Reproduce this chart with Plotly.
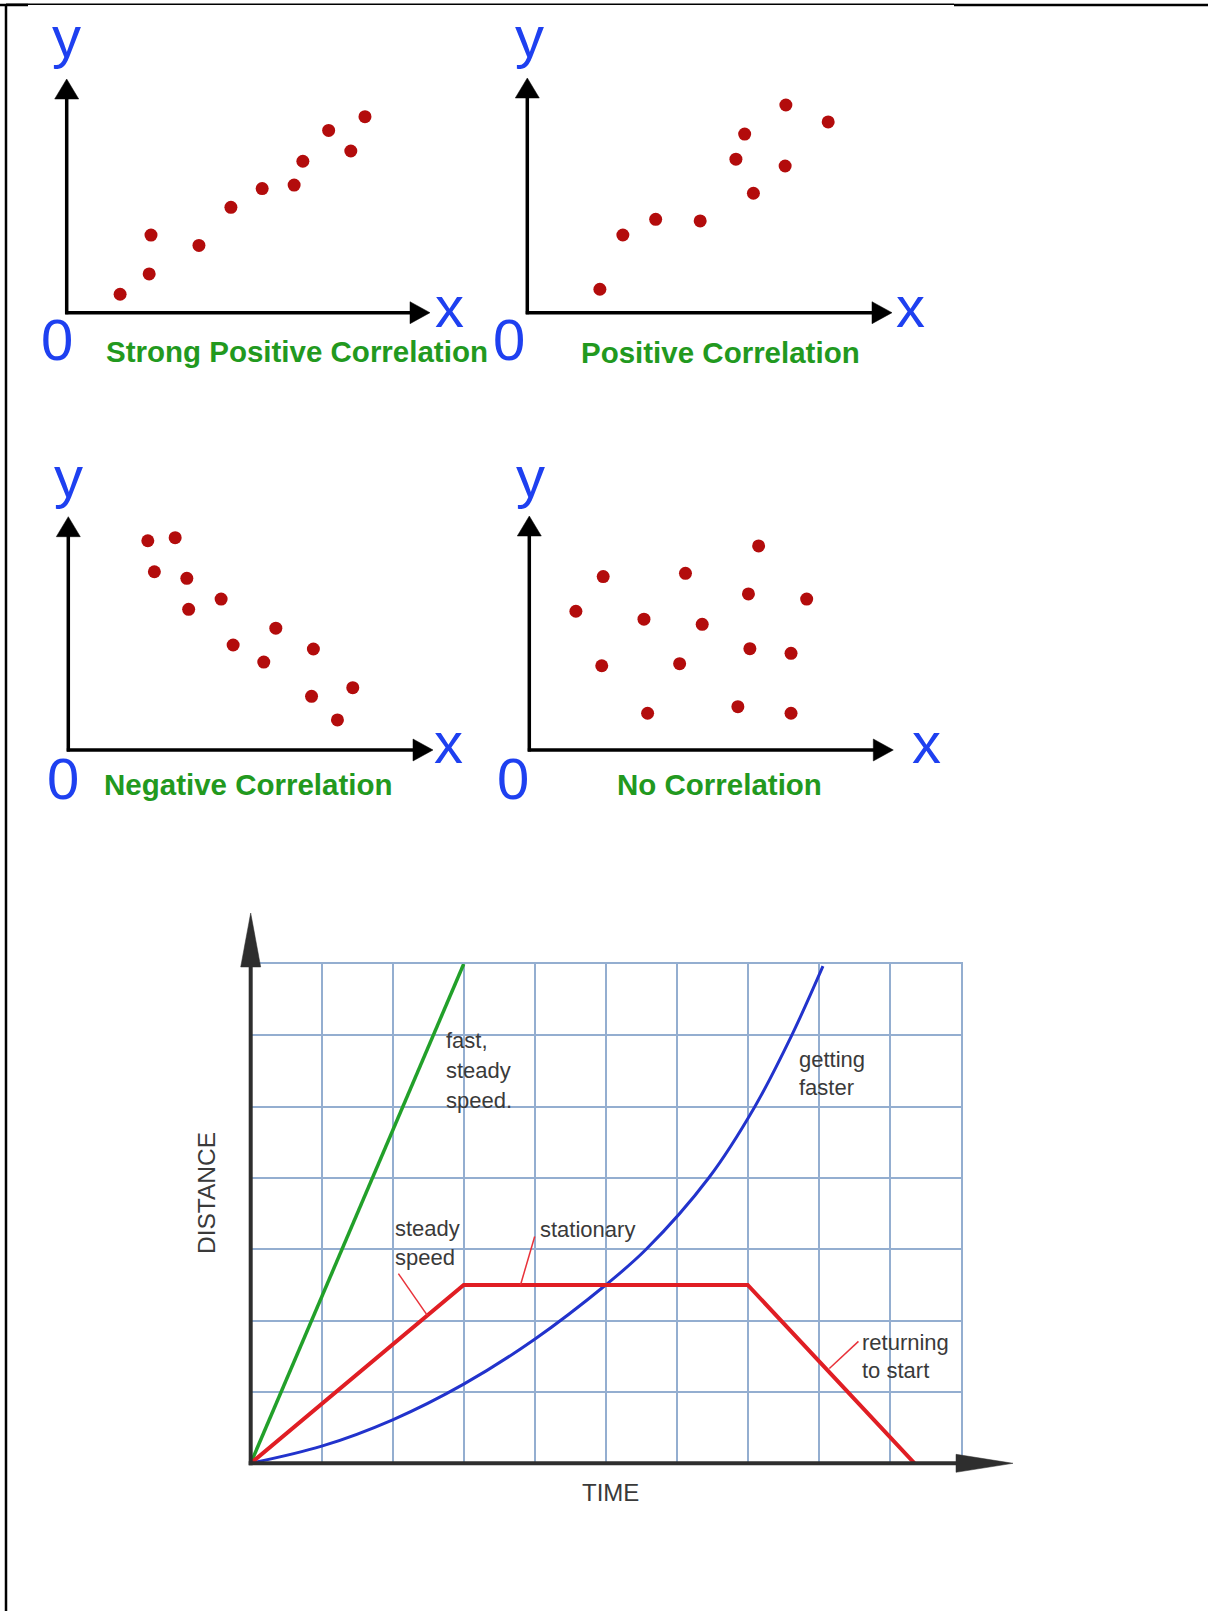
import plotly.graph_objects as go

W, H = 1208, 1611

# ---------------- data: the four scatter panels (0-10 units) ----------------
strong_pos_x = [1.47, 2.27, 2.32, 3.64, 4.52, 5.38, 6.26, 6.50, 7.21, 7.82, 8.21]
strong_pos_y = [0.79, 1.66, 3.32, 2.88, 4.51, 5.31, 5.46, 6.48, 7.80, 6.92, 8.39]
pos_x = [1.99, 2.62, 3.52, 4.74, 5.96, 5.72, 6.20, 7.09, 7.07, 8.25]
pos_y = [1.00, 3.31, 3.98, 3.91, 7.61, 6.54, 5.09, 8.85, 6.25, 8.13]
neg_x = [2.18, 2.93, 2.36, 3.25, 3.30, 4.19, 4.52, 5.69, 5.36, 6.72, 6.67, 7.80, 7.38]
neg_y = [8.97, 9.10, 7.64, 7.36, 6.03, 6.47, 4.50, 5.22, 3.77, 4.33, 2.30, 2.67, 1.29]
none_x = [1.28, 2.03, 1.99, 3.15, 3.25, 4.29, 4.13, 4.75, 6.30, 6.02, 6.06, 5.73, 7.62, 7.19, 7.19]
none_y = [5.93, 7.41, 3.60, 5.59, 1.57, 7.55, 3.69, 5.37, 8.72, 6.67, 4.33, 1.85, 6.45, 4.13, 1.57]
panel_titles = ["Strong Positive Correlation", "Positive Correlation",
                "Negative Correlation", "No Correlation"]
axis_names = ["y", "x", "0"]

# ---------------- data: distance-time graph (grid units) ----------------
fast_t = [0, 3]
fast_d = [0, 7]
trip_t = [0, 3, 7, 9.35]
trip_d = [0, 2.5, 2.5, 0]
accel_t = [0, 1, 2, 3, 4, 5, 5.57, 6.45, 7.1, 7.62, 8.06]
accel_d = [0, 0.24, 0.61, 1.11, 1.74, 2.5, 3, 4, 5, 6, 6.97]
# callout leader lines: (text end, point on curve)
leader_from_t = [2.08, 4.00, 8.56]
leader_from_d = [2.66, 3.18, 1.71]
leader_to_t = [2.49, 3.80, 8.15]
leader_to_d = [2.07, 2.50, 1.33]
callouts = [["fast,", "steady", "speed."], ["steady", "speed"], ["stationary"],
            ["getting", "faster"], ["returning", "to start"]]
x_title = "TIME"
y_title = "DISTANCE"

# ---------------- layout constants (pixels) ----------------
BLUE = "#1e40f0"
GREEN = "#22991e"
DOT = "#b30c0c"
TXT = "#3a3a3a"
GRID = "#94aed0"
FONT = "Liberation Sans"

# origin x, origin y, x-arrow tip, y-arrow tip
PANEL_BOX = [
    (66.7, 312.7, 430.0, 79.0),
    (527.3, 312.7, 892.0, 78.0),
    (68.3, 750.0, 433.0, 516.7),
    (529.3, 750.0, 893.3, 516.0),
]
# (cx, baseline) for y, x, 0 and (left, baseline) for the title
PANEL_LABELS = [
    [(66, 57), (449, 327), (57, 360), (106, 362)],
    [(529, 57), (910, 327), (509, 360), (581, 362.7)],
    [(68.3, 496.7), (448.3, 763), (63.3, 799), (104, 795)],
    [(530.7, 496.7), (926, 763), (513.3, 799), (616.7, 795)],
]
# bottom graph: origin and far corner of the grid
G_OX, G_OY, G_X1, G_Y1 = 250.7, 1463.3, 960.7, 964.0


def fx(px):
    return px / W


def fy(py):
    return 1 - py / H


def line(x0, y0, x1, y1, w, c):
    return dict(type="line", xref="paper", yref="paper",
                x0=fx(x0), y0=fy(y0), x1=fx(x1), y1=fy(y1),
                line=dict(color=c, width=w))


def tri(pts, c):
    p = "M " + " L ".join(f"{fx(a):.6f},{fy(b):.6f}" for a, b in pts) + " Z"
    return dict(type="path", xref="paper", yref="paper", path=p,
                fillcolor=c, line=dict(color=c, width=0.5))


def text_at(s, x, baseline, size, color, anchor="center", angle=0, cy=None):
    if cy is None:
        cy = baseline - 0.3465 * size
    return dict(text=s, x=fx(x), y=fy(cy), xref="paper", yref="paper",
                xanchor=anchor, yanchor="middle", showarrow=False,
                textangle=angle, borderpad=0, borderwidth=0,
                font=dict(family=FONT, size=size, color=color))


fig = go.Figure()
shapes = []
annotations = []

panel_data = [(strong_pos_x, strong_pos_y), (pos_x, pos_y),
              (neg_x, neg_y), (none_x, none_y)]

for i, ((ox, oy, xt, yt), (dx, dy)) in enumerate(zip(PANEL_BOX, panel_data)):
    n = i + 1
    sx = "" if n == 1 else str(n)
    fig.add_trace(go.Scatter(x=dx, y=dy, mode="markers", xaxis="x" + sx, yaxis="y" + sx,
                             marker=dict(size=13, color=DOT, line=dict(width=0)),
                             hoverinfo="skip", showlegend=False))
    fig.layout["xaxis" + sx] = dict(domain=[fx(ox), fx(xt)], range=[0, 10], visible=False,
                                    anchor="y" + sx, fixedrange=True)
    fig.layout["yaxis" + sx] = dict(domain=[fy(oy), fy(yt)], range=[0, 10], visible=False,
                                    anchor="x" + sx, fixedrange=True)
    # axes with arrow heads
    shapes.append(line(ox, oy + 1.5, ox, yt + 18, 3.5, "black"))
    shapes.append(line(ox - 1.5, oy, xt - 18, oy, 3.5, "black"))
    shapes.append(tri([(ox - 12, yt + 20), (ox, yt), (ox + 12, yt + 20)], "black"))
    shapes.append(tri([(xt - 20, oy - 11), (xt, oy), (xt - 20, oy + 11)], "black"))
    lab = PANEL_LABELS[i]
    for name, (cx, bl) in zip(axis_names, lab[:3]):
        annotations.append(text_at(name, cx, bl, 58, BLUE))
    annotations.append(text_at("<b>" + panel_titles[i] + "</b>", lab[3][0], lab[3][1],
                               29.5, GREEN, anchor="left"))

# ---------------- distance-time graph ----------------
fig.add_trace(go.Scatter(x=fast_t, y=fast_d, mode="lines", xaxis="x5", yaxis="y5",
                         line=dict(color="#22a02a", width=3.5), cliponaxis=False,
                         hoverinfo="skip", showlegend=False))
fig.add_trace(go.Scatter(x=accel_t, y=accel_d, mode="lines", xaxis="x5", yaxis="y5",
                         line=dict(color="#2233cc", width=3, shape="spline", smoothing=1),
                         cliponaxis=False, hoverinfo="skip", showlegend=False))
fig.add_trace(go.Scatter(x=trip_t, y=trip_d, mode="lines", xaxis="x5", yaxis="y5",
                         line=dict(color="#e01e24", width=4), cliponaxis=False,
                         hoverinfo="skip", showlegend=False))

grid = dict(showgrid=True, gridcolor=GRID, gridwidth=1.5, zeroline=False,
            showline=True, linecolor=GRID, linewidth=1.5, mirror=True,
            showticklabels=False, ticks="", tickmode="linear",
            tick0=0, dtick=1, fixedrange=True)
fig.layout.xaxis5 = dict(domain=[fx(G_OX), fx(G_X1)], range=[0, 10], anchor="y5", **grid)
fig.layout.yaxis5 = dict(domain=[fy(G_OY), fy(G_Y1)], range=[0, 7], anchor="x5", **grid)

for t0, d0, t1, d1 in zip(leader_from_t, leader_from_d, leader_to_t, leader_to_d):
    shapes.append(dict(type="line", xref="x5", yref="y5", x0=t0, y0=d0, x1=t1, y1=d1,
                       line=dict(color="#e8323a", width=1.5)))

# dark axes with long arrow heads
AX = "#2e2e2e"
shapes.append(line(G_OX, G_OY + 2, G_OX, 966, 4, AX))
shapes.append(tri([(G_OX - 10, 967), (G_OX, 913), (G_OX + 10, 967)], AX))
shapes.append(line(G_OX - 2, G_OY, 958, G_OY, 4, AX))
shapes.append(tri([(956, G_OY - 9), (1013, G_OY), (956, G_OY + 9)], AX))

# callout texts: (left x, first baseline, line spacing)
CALLOUT_POS = [(445.7, 1048.3, 30), (395, 1236.5, 28.5), (540, 1236.7, 0),
               (799.3, 1066.7, 28.5), (861.7, 1350, 28.5)]
for lines_, (lx, bl, sp) in zip(callouts, CALLOUT_POS):
    for k, s in enumerate(lines_):
        annotations.append(text_at(s, lx, bl + k * sp, 22, TXT, anchor="left"))

annotations.append(text_at(x_title, 611, 1500.5, 24, TXT))
annotations.append(text_at(y_title, 206, 0, 24.5, TXT, angle=-90, cy=1193))

# page border
shapes.append(line(6, 4, 6, H, 2.5, "black"))
shapes.append(line(6, 4.3, 954, 4.3, 1.5, "black"))
shapes.append(line(954, 5, W, 5, 2.5, "black"))
shapes.append(line(0, 5, 28, 5, 2.5, "black"))

fig.update_layout(width=W, height=H, margin=dict(l=0, r=0, t=0, b=0, pad=0),
                  paper_bgcolor="white", plot_bgcolor="white", showlegend=False,
                  shapes=shapes, annotations=annotations)

fig.write_html("out.html", config={"displayModeBar": False},
               post_script="document.body.style.margin='0';document.body.style.overflow='hidden';")
